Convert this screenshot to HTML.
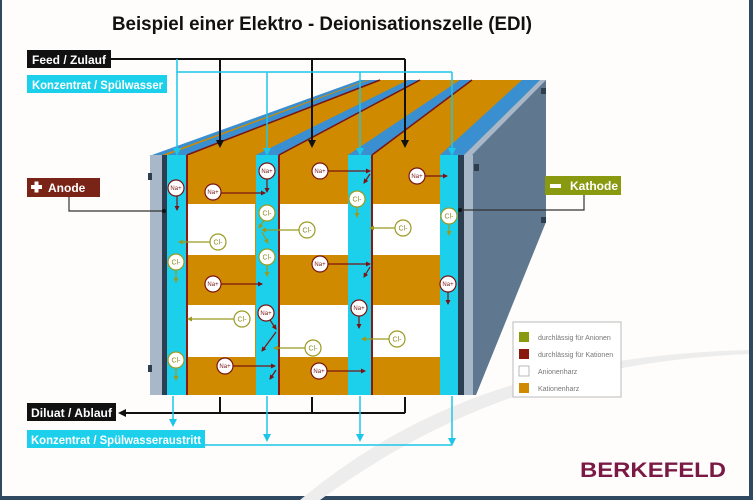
<!DOCTYPE html>
<html><head><meta charset="utf-8"><style>
html,body{margin:0;padding:0;background:#fff}
svg{display:block}
text{font-family:"Liberation Sans",sans-serif}
</style></head><body>
<svg width="753" height="500" viewBox="0 0 753 500" xmlns="http://www.w3.org/2000/svg">
<defs>
<marker id="ab" markerWidth="8" markerHeight="8" refX="6" refY="4" orient="auto" markerUnits="userSpaceOnUse"><path d="M0,0 L8,4 L0,8 z" fill="#111"/></marker>
<marker id="ac" markerWidth="8" markerHeight="8" refX="6" refY="4" orient="auto" markerUnits="userSpaceOnUse"><path d="M0,0 L8,4 L0,8 z" fill="#1cc6e8"/></marker>
<marker id="ar" markerWidth="5" markerHeight="5" refX="4" refY="2.5" orient="auto" markerUnits="userSpaceOnUse"><path d="M0,0 L5,2.5 L0,5 z" fill="#7a1414"/></marker>
<marker id="ag" markerWidth="5" markerHeight="5" refX="4" refY="2.5" orient="auto" markerUnits="userSpaceOnUse"><path d="M0,0 L5,2.5 L0,5 z" fill="#9a9a20"/></marker>
</defs>
<rect x="0" y="0" width="753" height="500" fill="#2f4a60"/>
<rect x="2" y="0" width="747" height="496" fill="#fffdfb"/>
<path d="M300,500 C420,400 560,355 749,350 L749,354 C560,362 430,420 320,500 z" fill="#ededed"/>
<text x="322" y="30" text-anchor="middle" font-size="19" font-weight="bold" fill="#111" textLength="420" lengthAdjust="spacingAndGlyphs">Beispiel einer Elektro - Deionisationszelle (EDI)</text>

<!-- right side face -->
<polygon points="464,155 540,80 546,80 546,222 476,395 464,395" fill="#5f7890"/>
<polygon points="464,155 540,80 546,80 472,155" fill="#a8b8c8"/>
<rect x="464" y="155" width="9" height="240" fill="#a8b8c8"/>
<!-- top face -->
<polygon points="160,155 365,80 540,80 464,155" fill="#d08a00"/>
<g fill="#3a8fd0">
<polygon points="152,155 162,155 367,80 360,80"/>
<polygon points="167,155 187,155 380,80 369,80"/>
<polygon points="256,155 279,155 420,80 408,80"/>
<polygon points="348,155 372,155 472,80 460,80"/>
<polygon points="440,155 464,155 540,80 522,80"/>
</g>
<g stroke="#7a1414" stroke-width="1.5">
<line x1="187" y1="155" x2="380" y2="80"/><line x1="279" y1="155" x2="420" y2="80"/><line x1="372" y1="155" x2="472" y2="80"/>
</g>
<!-- front face -->
<rect x="150" y="155" width="12" height="240" fill="#a8b8c8"/>
<rect x="162" y="155" width="5" height="240" fill="#2c3e50"/>
<rect x="458" y="155" width="6" height="240" fill="#2c3e50"/>
<rect x="187" y="155" width="69" height="240" fill="#d08a00"/>
<rect x="279" y="155" width="69" height="240" fill="#d08a00"/>
<rect x="372" y="155" width="68" height="240" fill="#d08a00"/>
<g fill="#fff">
<rect x="188" y="204" width="67" height="51"/><rect x="280" y="204" width="68" height="51"/><rect x="373" y="204" width="67" height="51"/>
<rect x="188" y="305" width="67" height="52"/><rect x="280" y="305" width="68" height="52"/><rect x="373" y="305" width="67" height="52"/>
</g>
<g fill="#1cd0ec">
<rect x="167" y="155" width="19" height="240"/><rect x="256" y="155" width="22" height="240"/><rect x="348" y="155" width="23" height="240"/><rect x="440" y="155" width="18" height="240"/>
</g>
<g stroke="#8a1a10" stroke-width="2"><line x1="187" y1="155" x2="187" y2="395"/><line x1="279" y1="155" x2="279" y2="395"/><line x1="372" y1="155" x2="372" y2="395"/></g>
<g fill="#2c3e50"><rect x="148" y="173" width="4" height="7"/><rect x="148" y="365" width="4" height="7"/><rect x="541" y="88" width="5" height="6"/><rect x="541" y="217" width="5" height="6"/><rect x="474" y="164" width="5" height="7"/></g>

<!-- Feed lines -->
<g stroke="#111" stroke-width="2" fill="none">
<polyline points="110,59 405,59"/>
<line x1="220" y1="59" x2="220" y2="146" marker-end="url(#ab)"/>
<line x1="312" y1="59" x2="312" y2="146" marker-end="url(#ab)"/>
<line x1="405" y1="59" x2="405" y2="146" marker-end="url(#ab)"/>
</g>
<g stroke="#1cc6e8" stroke-width="1.5" fill="none">
<polyline points="177,59 177,72 452,72"/>
<line x1="177" y1="72" x2="177" y2="154" marker-end="url(#ac)"/>
<line x1="267" y1="72" x2="267" y2="154" marker-end="url(#ac)"/>
<line x1="360" y1="72" x2="360" y2="154" marker-end="url(#ac)"/>
<line x1="452" y1="72" x2="452" y2="154" marker-end="url(#ac)"/>
</g>
<!-- bottom lines -->
<g stroke="#111" stroke-width="2" fill="none">
<polyline points="220,397 220,413"/><polyline points="312,397 312,413"/><polyline points="405,397 405,413"/>
<line x1="405" y1="413" x2="120" y2="413" marker-end="url(#ab)"/>
</g>
<g stroke="#1cc6e8" stroke-width="1.5" fill="none">
<line x1="173" y1="396" x2="173" y2="425" marker-end="url(#ac)"/>
<line x1="267" y1="396" x2="267" y2="440" marker-end="url(#ac)"/>
<line x1="360" y1="396" x2="360" y2="440" marker-end="url(#ac)"/>
<line x1="452" y1="396" x2="452" y2="444" marker-end="url(#ac)"/>
<line x1="205" y1="445" x2="452" y2="445"/>
</g>
<!-- anode/kathode lines -->
<g stroke="#333" stroke-width="1.2" fill="none">
<polyline points="69,197 69,211 164,211"/><polyline points="584,195 584,210 462,210"/>
</g>
<circle cx="164" cy="211" r="2" fill="#111"/><circle cx="460" cy="210" r="2" fill="#111"/>

<!-- labels -->
<rect x="27" y="50" width="84" height="18" fill="#111"/><text x="32" y="64" font-size="12" font-weight="bold" fill="#fff" textLength="74" lengthAdjust="spacingAndGlyphs">Feed / Zulauf</text>
<rect x="27" y="75" width="140" height="18" fill="#1cd0ec"/><text x="32" y="89" font-size="12" font-weight="bold" fill="#fff" textLength="131" lengthAdjust="spacingAndGlyphs">Konzentrat / Spülwasser</text>
<rect x="27" y="178" width="73" height="19" fill="#7a2418"/><rect x="31" y="185" width="11" height="4" fill="#fff"/><rect x="34.5" y="181.5" width="4" height="11" fill="#fff"/><text x="48" y="192" font-size="12" font-weight="bold" fill="#fff">Anode</text>
<rect x="545" y="176" width="76" height="19" fill="#8a9a10"/><rect x="550" y="184" width="11" height="4" fill="#fff"/><text x="570" y="190" font-size="12" font-weight="bold" fill="#fff">Kathode</text>
<rect x="27" y="403" width="89" height="18" fill="#111"/><text x="31" y="417" font-size="12" font-weight="bold" fill="#fff" textLength="81" lengthAdjust="spacingAndGlyphs">Diluat / Ablauf</text>
<rect x="27" y="430" width="178" height="18" fill="#1cd0ec"/><text x="31" y="444" font-size="12" font-weight="bold" fill="#fff" textLength="170" lengthAdjust="spacingAndGlyphs">Konzentrat / Spülwasseraustritt</text>

<!-- ion arrows -->
<g stroke="#7a1414" stroke-width="1.2" fill="none">
<line x1="177" y1="195" x2="177" y2="210" marker-end="url(#ar)"/>
<line x1="221" y1="193" x2="265" y2="193" marker-end="url(#ar)"/>
<line x1="267" y1="179" x2="267" y2="192" marker-end="url(#ar)"/>
<line x1="328" y1="171" x2="370" y2="171" marker-end="url(#ar)"/>
<line x1="370" y1="174" x2="364" y2="183" marker-end="url(#ar)"/>
<line x1="425" y1="176" x2="447" y2="176" marker-end="url(#ar)"/>
<line x1="328" y1="264" x2="370" y2="264" marker-end="url(#ar)"/>
<line x1="370" y1="267" x2="364" y2="277" marker-end="url(#ar)"/>
<line x1="221" y1="284" x2="262" y2="284" marker-end="url(#ar)"/>
<line x1="448" y1="292" x2="448" y2="304" marker-end="url(#ar)"/>
<line x1="270" y1="320" x2="276" y2="329" marker-end="url(#ar)"/>
<line x1="276" y1="332" x2="262" y2="351" marker-end="url(#ar)"/>
<line x1="359" y1="316" x2="359" y2="328" marker-end="url(#ar)"/>
<line x1="233" y1="366" x2="275" y2="366" marker-end="url(#ar)"/>
<line x1="276" y1="370" x2="270" y2="379" marker-end="url(#ar)"/>
<line x1="327" y1="371" x2="365" y2="371" marker-end="url(#ar)"/>
</g>
<g stroke="#9a9a20" stroke-width="1.2" fill="none">
<line x1="264" y1="220" x2="259" y2="228" marker-end="url(#ag)"/>
<line x1="299" y1="230" x2="262" y2="230" marker-end="url(#ag)"/>
<line x1="262" y1="232" x2="268" y2="243" marker-end="url(#ag)"/>
<line x1="357" y1="207" x2="357" y2="217" marker-end="url(#ag)"/>
<line x1="395" y1="228" x2="370" y2="228" marker-end="url(#ag)"/>
<line x1="449" y1="225" x2="449" y2="235" marker-end="url(#ag)"/>
<line x1="210" y1="242" x2="179" y2="242" marker-end="url(#ag)"/>
<line x1="176" y1="270" x2="176" y2="282" marker-end="url(#ag)"/>
<line x1="267" y1="265" x2="267" y2="276" marker-end="url(#ag)"/>
<line x1="234" y1="319" x2="188" y2="319" marker-end="url(#ag)"/>
<line x1="389" y1="339" x2="362" y2="339" marker-end="url(#ag)"/>
<line x1="305" y1="348" x2="274" y2="348" marker-end="url(#ag)"/>
<line x1="176" y1="368" x2="176" y2="380" marker-end="url(#ag)"/>
</g>
<!-- ions -->
<g font-size="6" text-anchor="middle">
<g stroke="#7a1414" stroke-width="1.2" fill="#fff">
<circle cx="176" cy="188" r="8"/><circle cx="213" cy="192" r="8"/><circle cx="267" cy="171" r="8"/><circle cx="320" cy="171" r="8"/><circle cx="417" cy="176" r="8"/><circle cx="320" cy="264" r="8"/><circle cx="213" cy="284" r="8"/><circle cx="448" cy="284" r="8"/><circle cx="266" cy="313" r="8"/><circle cx="359" cy="308" r="8"/><circle cx="225" cy="366" r="8"/><circle cx="319" cy="371" r="8"/>
</g>
<g fill="#7a1414">
<text x="176" y="190">Na+</text><text x="213" y="194">Na+</text><text x="267" y="173">Na+</text><text x="320" y="173">Na+</text><text x="417" y="178">Na+</text><text x="320" y="266">Na+</text><text x="213" y="286">Na+</text><text x="448" y="286">Na+</text><text x="266" y="315">Na+</text><text x="359" y="310">Na+</text><text x="225" y="368">Na+</text><text x="319" y="373">Na+</text>
</g>
<g stroke="#9a9a20" stroke-width="1.2" fill="#fff">
<circle cx="267" cy="213" r="8"/><circle cx="307" cy="230" r="8"/><circle cx="357" cy="199" r="8"/><circle cx="403" cy="228" r="8"/><circle cx="449" cy="216" r="8"/><circle cx="218" cy="242" r="8"/><circle cx="176" cy="262" r="8"/><circle cx="267" cy="257" r="8"/><circle cx="242" cy="319" r="8"/><circle cx="397" cy="339" r="8"/><circle cx="313" cy="348" r="8"/><circle cx="176" cy="360" r="8"/>
</g>
<g fill="#8a8a20" font-size="7">
<text x="267" y="215.5">Cl-</text><text x="307" y="232.5">Cl-</text><text x="357" y="201.5">Cl-</text><text x="403" y="230.5">Cl-</text><text x="449" y="218.5">Cl-</text><text x="218" y="244.5">Cl-</text><text x="176" y="264.5">Cl-</text><text x="267" y="259.5">Cl-</text><text x="242" y="321.5">Cl-</text><text x="397" y="341.5">Cl-</text><text x="313" y="350.5">Cl-</text><text x="176" y="362.5">Cl-</text>
</g>
</g>

<!-- legend -->
<rect x="513" y="322" width="108" height="75" fill="#fff" stroke="#bbb"/>
<rect x="519" y="332" width="10" height="10" fill="#8a9a10"/>
<rect x="519" y="349" width="10" height="10" fill="#8a1a10"/>
<rect x="519" y="366" width="10" height="10" fill="#fff" stroke="#aaa" stroke-width="0.8"/>
<rect x="519" y="383" width="10" height="10" fill="#d08a00"/>
<g font-size="7" fill="#777">
<text x="538" y="340">durchlässig für Anionen</text>
<text x="538" y="357">durchlässig für Kationen</text>
<text x="538" y="374">Anionenharz</text>
<text x="538" y="391">Kationenharz</text>
</g>
<text x="580" y="477" font-size="21" font-weight="bold" fill="#7a1a44" textLength="146" lengthAdjust="spacingAndGlyphs">BERKEFELD</text>
</svg>
</body></html>
